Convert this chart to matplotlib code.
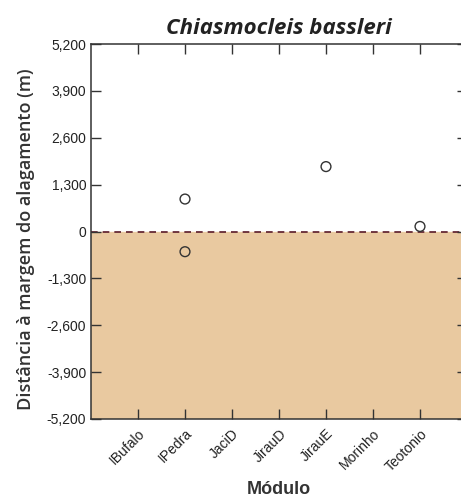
import matplotlib
matplotlib.use('Agg')
import matplotlib.pyplot as plt
from matplotlib.ticker import FuncFormatter
from matplotlib.transforms import ScaledTranslation

# módulos de amostragem e distâncias dos registros
modulos = ['IBufalo', 'IPedra', 'JaciD', 'JirauD', 'JirauE', 'Morinho', 'Teotonio']
pontos_modulo = ['IPedra', 'IPedra', 'JirauE', 'Teotonio']
distancias = [900, -560, 1800, 140]
yticks = [-5200, -3900, -2600, -1300, 0, 1300, 2600, 3900, 5200]

fig = plt.figure(figsize=(4.61, 5.03), dpi=100)
ax = fig.add_axes([91 / 461, 84 / 503, 376 / 461, 375 / 503])

x = [modulos.index(m) for m in pontos_modulo]
ax.set_xlim(-1, len(modulos))
ax.set_ylim(-5200, 5200)

# área abaixo da margem do alagamento
ax.axhspan(-5200, 0, color='#e9c9a0', zorder=0)
ax.axhline(0, color='#5a1a2a', linestyle=(0, (4, 3)), linewidth=1.2, zorder=1)

ax.scatter(x, distancias, s=50, facecolors='none', edgecolors='#333333',
           linewidths=1.0, zorder=3)

ax.set_xticks(range(len(modulos)))
ax.set_xticklabels(modulos, rotation=45, ha='right', va='top',
                   rotation_mode='anchor', family='Liberation Sans',
                   fontsize=10)
# desloca os rótulos inclinados um pouco para a direita
desloc = ScaledTranslation(0.06, 0, fig.dpi_scale_trans)
for lab in ax.get_xticklabels():
    lab.set_transform(lab.get_transform() + desloc)

ax.set_yticks(yticks)
ax.yaxis.set_major_formatter(FuncFormatter(lambda v, p: f'{int(v):,}'))
for lab in ax.get_yticklabels():
    lab.set_family('Liberation Sans')
    lab.set_fontsize(10)

ax.tick_params(direction='in', length=7, width=1, top=True, right=True,
               colors='#333333', labelcolor='#222222')
ax.tick_params(axis='x', pad=5.5)
for s in ax.spines.values():
    s.set_color('#333333')
    s.set_linewidth(1.1)

ax.set_title('Chiasmocleis bassleri', fontsize=16, fontweight='bold',
             style='italic', family='Open Sans', pad=7, color='#222222')
ax.set_xlabel('Módulo', fontsize=13, fontweight='bold', family='Liberation Sans',
              color='#333333', labelpad=5)
ax.set_ylabel('Distância à margem do alagamento (m)', fontsize=13,
              fontweight='semibold', family='Open Sans', color='#333333')
ax.yaxis.set_label_coords(-0.15, 0.48)

fig.savefig('out.png', dpi=100)
